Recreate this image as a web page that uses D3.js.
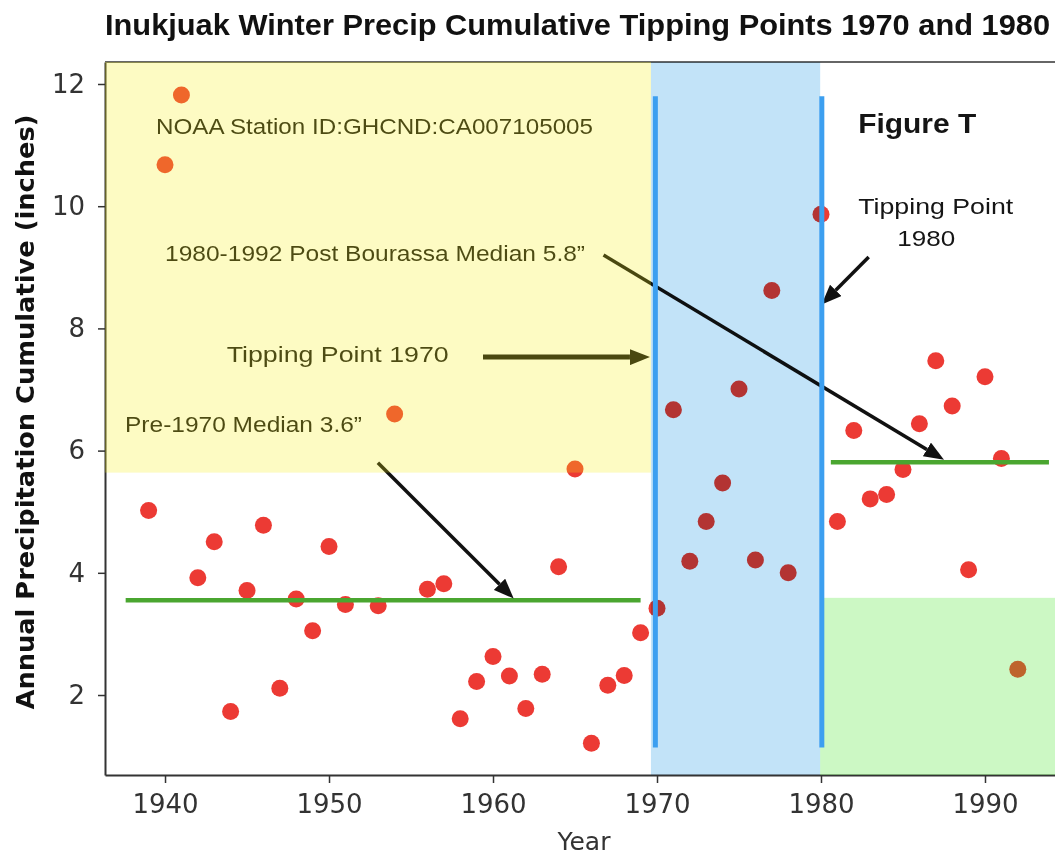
<!DOCTYPE html>
<html>
<head>
<meta charset="utf-8">
<script src="https://cdn.jsdelivr.net/npm/d3@7"></script>
<style>
  body { margin: 0; background: #fff; }
  svg { display: block; }
</style>
</head>
<body>
<svg id="chart"></svg>
<script>
// winter precip, cumulative inches (1952, 1955, 1979 missing)
var years = [1939, 1940, 1941, 1942, 1943, 1944, 1945, 1946, 1947, 1948, 1949, 1950, 1951,
             1953, 1954, 1956, 1957, 1958, 1959, 1960, 1961, 1962, 1963, 1964, 1965, 1966,
             1967, 1968, 1969, 1970, 1971, 1972, 1973, 1974, 1975, 1976, 1977, 1978, 1980,
             1981, 1982, 1983, 1984, 1985, 1986, 1987, 1988, 1989, 1990, 1991, 1992];
var precip = [5.02, 10.68, 11.82, 3.92, 4.51, 1.73, 3.71, 4.78, 2.11, 3.57, 3.05, 4.43, 3.48,
              3.46, 6.60, 3.73, 3.82, 1.61, 2.22, 2.63, 2.31, 1.78, 2.34, 4.10, 5.70, 1.21,
              2.16, 2.32, 3.02, 3.42, 6.67, 4.19, 4.84, 5.47, 7.01, 4.21, 8.62, 4.00, 9.87,
              4.84, 6.33, 5.21, 5.28, 5.69, 6.44, 7.47, 6.73, 4.05, 7.21, 5.87, 2.42];

var xTicks = [1940, 1950, 1960, 1970, 1980, 1990];
var yTicks = [2, 4, 6, 8, 10, 12];

// median lines
var medianFrom = [1937.6, 1980.6];
var medianTo = [1969.0, 1993.9];
var medianValue = [3.55, 5.81];

// tipping point lines
var tipYears = [1969.9, 1980.05];
var tipLow = 1.14, tipHigh = 11.8;

// arrows [x1, y1, x2, y2] in data units
var arrows = [
  [1952.98, 5.80, 1961.26, 3.58],
  [1959.39, 7.53, 1969.57, 7.53],
  [1966.74, 9.20, 1987.50, 5.85],
  [1982.91, 9.17, 1980.04, 8.39]
];

var drawChart = function()
{
    var width = 1055;
    var height = 855;
    var mLeft = 105, mRight = 1056, mTop = 62, mBottom = 775;

    var svg = d3.select("#chart")
        .attr("width", width)
        .attr("height", height);

    var xScale = d3.scaleLinear()
        .domain([1936.34, 1994.33])
        .range([mLeft, mRight]);

    var yScale = d3.scaleLinear()
        .domain([0.691, 12.36])
        .range([mBottom, mTop]);

    var defs = svg.append("defs");
    defs.append("clipPath").attr("id", "plotclip")
      .append("rect")
        .attr("x", mLeft).attr("y", mTop)
        .attr("width", mRight - mLeft).attr("height", mBottom - mTop);

    defs.append("marker")
        .attr("id", "head")
        .attr("markerUnits", "userSpaceOnUse")
        .attr("viewBox", "0 0 20 16")
        .attr("markerWidth", 20)
        .attr("markerHeight", 16)
        .attr("refX", 0)
        .attr("refY", 8)
        .attr("orient", "auto")
      .append("path")
        .attr("d", "M0,0 L20,8 L0,16 Z")
        .attr("fill", "#111");

    var plot = svg.append("g").attr("clip-path", "url(#plotclip)");

    // points
    plot.selectAll("circle.pt")
        .data(years)
        .enter()
        .append("circle")
        .attr("class", "pt")
        .attr("cx", function(d) { return xScale(d); })
        .attr("cy", function(d, i) { return yScale(precip[i]); })
        .attr("r", 8.5)
        .attr("fill", "#ec3a34");

    // median lines
    plot.selectAll("line.median")
        .data(medianValue)
        .enter()
        .append("line")
        .attr("class", "median")
        .attr("x1", function(d, i) { return xScale(medianFrom[i]); })
        .attr("x2", function(d, i) { return xScale(medianTo[i]); })
        .attr("y1", function(d) { return yScale(d); })
        .attr("y2", function(d) { return yScale(d); })
        .attr("stroke", "#4aa630")
        .attr("stroke-width", 4.5);

    // annotation texts
    var notes = [
      {t: "NOAA Station ID:GHCND:CA007105005", x: 1939.45, y: 11.18, len: 437, size: 22, w: "normal"},
      {t: "1980-1992 Post Bourassa Median 5.8\u201D", x: 1940.0, y: 9.11, len: 420, size: 22, w: "normal"},
      {t: "Tipping Point 1970", x: 1943.76, y: 7.45, len: 222, size: 22, w: "normal"},
      {t: "Pre-1970 Median 3.6\u201D", x: 1937.56, y: 6.31, len: 237, size: 22, w: "normal"},
      {t: "Figure T", x: 1982.27, y: 11.19, len: 118, size: 28, w: "bold"},
      {t: "Tipping Point", x: 1982.27, y: 9.88, len: 155, size: 22, w: "normal"},
      {t: "1980", x: 1984.65, y: 9.35, len: 58, size: 22, w: "normal"}
    ];
    plot.selectAll("text.note")
        .data(notes)
        .enter()
        .append("text")
        .attr("class", "note")
        .attr("x", function(d) { return xScale(d.x); })
        .attr("y", function(d) { return yScale(d.y); })
        .attr("textLength", function(d) { return d.len; })
        .attr("lengthAdjust", "spacingAndGlyphs")
        .style("font-family", "'Liberation Sans', Arial, Helvetica, sans-serif")
        .style("font-size", function(d) { return d.size + "px"; })
        .style("font-weight", function(d) { return d.w; })
        .attr("fill", "#151515")
        .text(function(d) { return d.t; });

    // arrows, shortened so the head ends on the tip
    var headLen = 20;
    plot.selectAll("line.arrow")
        .data(arrows)
        .enter()
        .append("line")
        .attr("class", "arrow")
        .each(function(a, i) {
            var x1 = xScale(a[0]), y1 = yScale(a[1]);
            var x2 = xScale(a[2]), y2 = yScale(a[3]);
            var dx = x2 - x1, dy = y2 - y1;
            var L = Math.sqrt(dx * dx + dy * dy);
            d3.select(this)
              .attr("x1", x1).attr("y1", y1)
              .attr("x2", x2 - dx / L * headLen)
              .attr("y2", y2 - dy / L * headLen)
              .attr("stroke-width", i == 1 ? 5 : 3.5);
        })
        .attr("stroke", "#111")
        .attr("marker-end", "url(#head)");

    // axes
    var xAxis = d3.axisBottom(xScale)
        .tickValues(xTicks)
        .tickFormat(d3.format("d"))
        .tickSize(8)
        .tickSizeOuter(0)
        .tickPadding(12);
    var yAxis = d3.axisLeft(yScale)
        .tickValues(yTicks)
        .tickFormat(d3.format("d"))
        .tickSize(7)
        .tickSizeOuter(0)
        .tickPadding(13);

    var gx = svg.append("g")
        .attr("transform", "translate(0," + mBottom + ")")
        .call(xAxis);
    var gy = svg.append("g")
        .attr("transform", "translate(" + mLeft + ",0)")
        .call(yAxis);

    [gx, gy].forEach(function(g) {
        g.select(".domain").attr("stroke", "#333").attr("stroke-width", 2);
        g.selectAll(".tick line").attr("stroke", "#333").attr("stroke-width", 1.5);
        g.selectAll(".tick text")
            .attr("fill", "#333")
            .style("font-family", "'DejaVu Sans', sans-serif")
            .style("font-size", "26px");
    });

    // top spine
    svg.append("line")
        .attr("x1", mLeft).attr("x2", mRight)
        .attr("y1", mTop).attr("y2", mTop)
        .attr("stroke", "#666")
        .attr("stroke-width", 2);

    // shaded periods drawn over everything else
    var shades = [
      {x0: 1936.34, x1: 1969.63, y0: 5.64, y1: 12.36, fill: "rgb(247,239,15)", op: 0.25, blend: "normal"},
      {x0: 1969.63, x1: 1979.95, y0: 0.691, y1: 12.36, fill: "rgb(194,227,248)", op: 1, blend: "multiply"},
      {x0: 1979.95, x1: 1994.33, y0: 0.691, y1: 3.59, fill: "rgb(51,227,19)", op: 0.25, blend: "normal"}
    ];
    svg.selectAll("rect.shade")
        .data(shades)
        .enter()
        .append("rect")
        .attr("class", "shade")
        .attr("x", function(d) { return xScale(d.x0); })
        .attr("width", function(d) { return xScale(d.x1) - xScale(d.x0); })
        .attr("y", function(d) { return yScale(d.y1); })
        .attr("height", function(d) { return yScale(d.y0) - yScale(d.y1); })
        .attr("fill", function(d) { return d.fill; })
        .attr("fill-opacity", function(d) { return d.op; })
        .style("mix-blend-mode", function(d) { return d.blend; });

    // tipping point lines
    svg.selectAll("line.tip")
        .data(tipYears)
        .enter()
        .append("line")
        .attr("class", "tip")
        .attr("x1", function(d) { return xScale(d); })
        .attr("x2", function(d) { return xScale(d); })
        .attr("y1", yScale(tipLow))
        .attr("y2", yScale(tipHigh))
        .attr("stroke", "#3c9ff0")
        .attr("stroke-width", 5);

    // title and axis labels
    svg.append("text")
        .attr("x", 105)
        .attr("y", 35)
        .attr("textLength", 945)
        .attr("lengthAdjust", "spacingAndGlyphs")
        .style("font-family", "'Liberation Sans', Arial, Helvetica, sans-serif")
        .style("font-size", "30px")
        .style("font-weight", "bold")
        .attr("fill", "#111")
        .text("Inukjuak Winter Precip Cumulative Tipping Points 1970 and 1980");

    svg.append("text")
        .attr("x", 584)
        .attr("y", 850)
        .attr("text-anchor", "middle")
        .style("font-family", "'DejaVu Sans', sans-serif")
        .style("font-size", "25px")
        .attr("fill", "#333")
        .text("Year");

    svg.append("text")
        .attr("transform", "translate(34,412) rotate(-90)")
        .attr("text-anchor", "middle")
        .attr("textLength", 595)
        .attr("lengthAdjust", "spacingAndGlyphs")
        .style("font-family", "'DejaVu Sans', sans-serif")
        .style("font-size", "24px")
        .style("font-weight", "bold")
        .attr("fill", "#111")
        .text("Annual Precipitation Cumulative (inches)");
}

drawChart();
</script>
</body>
</html>
